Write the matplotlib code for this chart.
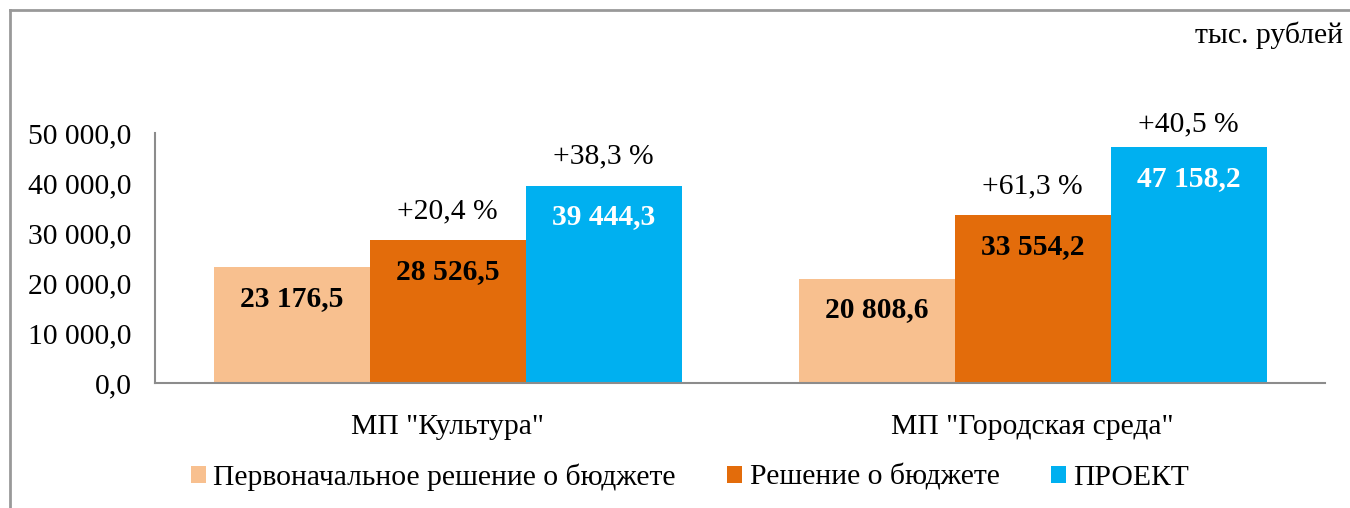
import matplotlib
matplotlib.use("Agg")
import matplotlib.pyplot as plt
from matplotlib.lines import Line2D
from matplotlib.ticker import FuncFormatter, MultipleLocator
import numpy as np

plt.rcParams['font.family'] = ['Liberation Serif', 'DejaVu Serif']

categories = ['МП "Культура"', 'МП "Городская среда"']
series_names = ['Первоначальное решение о бюджете', 'Решение о бюджете', 'ПРОЕКТ']
initial = [23176.5, 20808.6]
decision = [28526.5, 33554.2]
project = [39444.3, 47158.2]
pct_decision = ['+20,4 %', '+61,3 %']
pct_project = ['+38,3 %', '+40,5 %']
colors = ['#F8C08F', '#E36C0B', '#00B0F0']
label_colors = ['black', 'black', 'white']

W, H = 1350, 508
fig = plt.figure(figsize=(W / 100, H / 100), dpi=100)
ax = fig.add_axes([155 / W, 1 - 383 / H, (1325 - 155) / W, (383 - 133) / H])

fs = 21.3
x = np.arange(len(categories))
bw = 0.8 / 3
series = [initial, decision, project]
for i, (vals, c, lc) in enumerate(zip(series, colors, label_colors)):
    pos = x + (i - 1) * bw
    bars = ax.bar(pos, vals, width=bw, color=c, label=series_names[i], edgecolor='none')
    for b, v in zip(bars, vals):
        s = f"{v:,.1f}".replace(",", " ").replace(".", ",")
        ax.annotate(s, (b.get_x() + b.get_width() / 2, v), xytext=(0, -31),
                    textcoords='offset pixels', ha='center', va='center',
                    fontsize=fs, fontweight='bold', color=lc)

pct_offsets = [[29, 29], [29, 23]]
for i, (vals, pl) in enumerate([(decision, pct_decision), (project, pct_project)]):
    pos = x + i * bw
    for j, (p, v, t) in enumerate(zip(pos, vals, pl)):
        ax.annotate(t, (p, v), xytext=(0, pct_offsets[i][j]), textcoords='offset pixels',
                    ha='center', va='center', fontsize=fs, color='black',
                    annotation_clip=False)

ax.set_xlim(-0.5, 1.5)
ax.set_ylim(0, 50000)
ax.yaxis.set_major_locator(MultipleLocator(10000))
ax.yaxis.set_major_formatter(FuncFormatter(lambda v, p: f"{v:,.1f}".replace(",", " ").replace(".", ",")))
ax.set_xticks(x)
ax.set_xticklabels(categories)
ax.tick_params(axis='both', length=0, labelsize=fs)
ax.tick_params(axis='y', pad=17)
ax.tick_params(axis='x', pad=22)
for s in ['top', 'right']:
    ax.spines[s].set_visible(False)
for s in ['left', 'bottom']:
    ax.spines[s].set_color('#8C8C8C')
    ax.spines[s].set_linewidth(1.5)

leg = fig.legend(loc='center', bbox_to_anchor=(690 / W, 1 - 477 / H), ncol=3, frameon=False,
                 fontsize=fs, handlelength=0.5, handleheight=0.5, handletextpad=0.25,
                 columnspacing=1.75, borderaxespad=0, borderpad=0)

fig.text(1343 / W, 1 - 35 / H, 'тыс. рублей', ha='right', va='center', fontsize=fs)

# outer border
fig.add_artist(Line2D([10 / W, 10 / W], [0, 1 - 10 / H], color='#999999', lw=2, transform=fig.transFigure))
fig.add_artist(Line2D([10 / W, 1], [1 - 10 / H, 1 - 10 / H], color='#999999', lw=2, transform=fig.transFigure))

fig.savefig('out.png', dpi=100)
